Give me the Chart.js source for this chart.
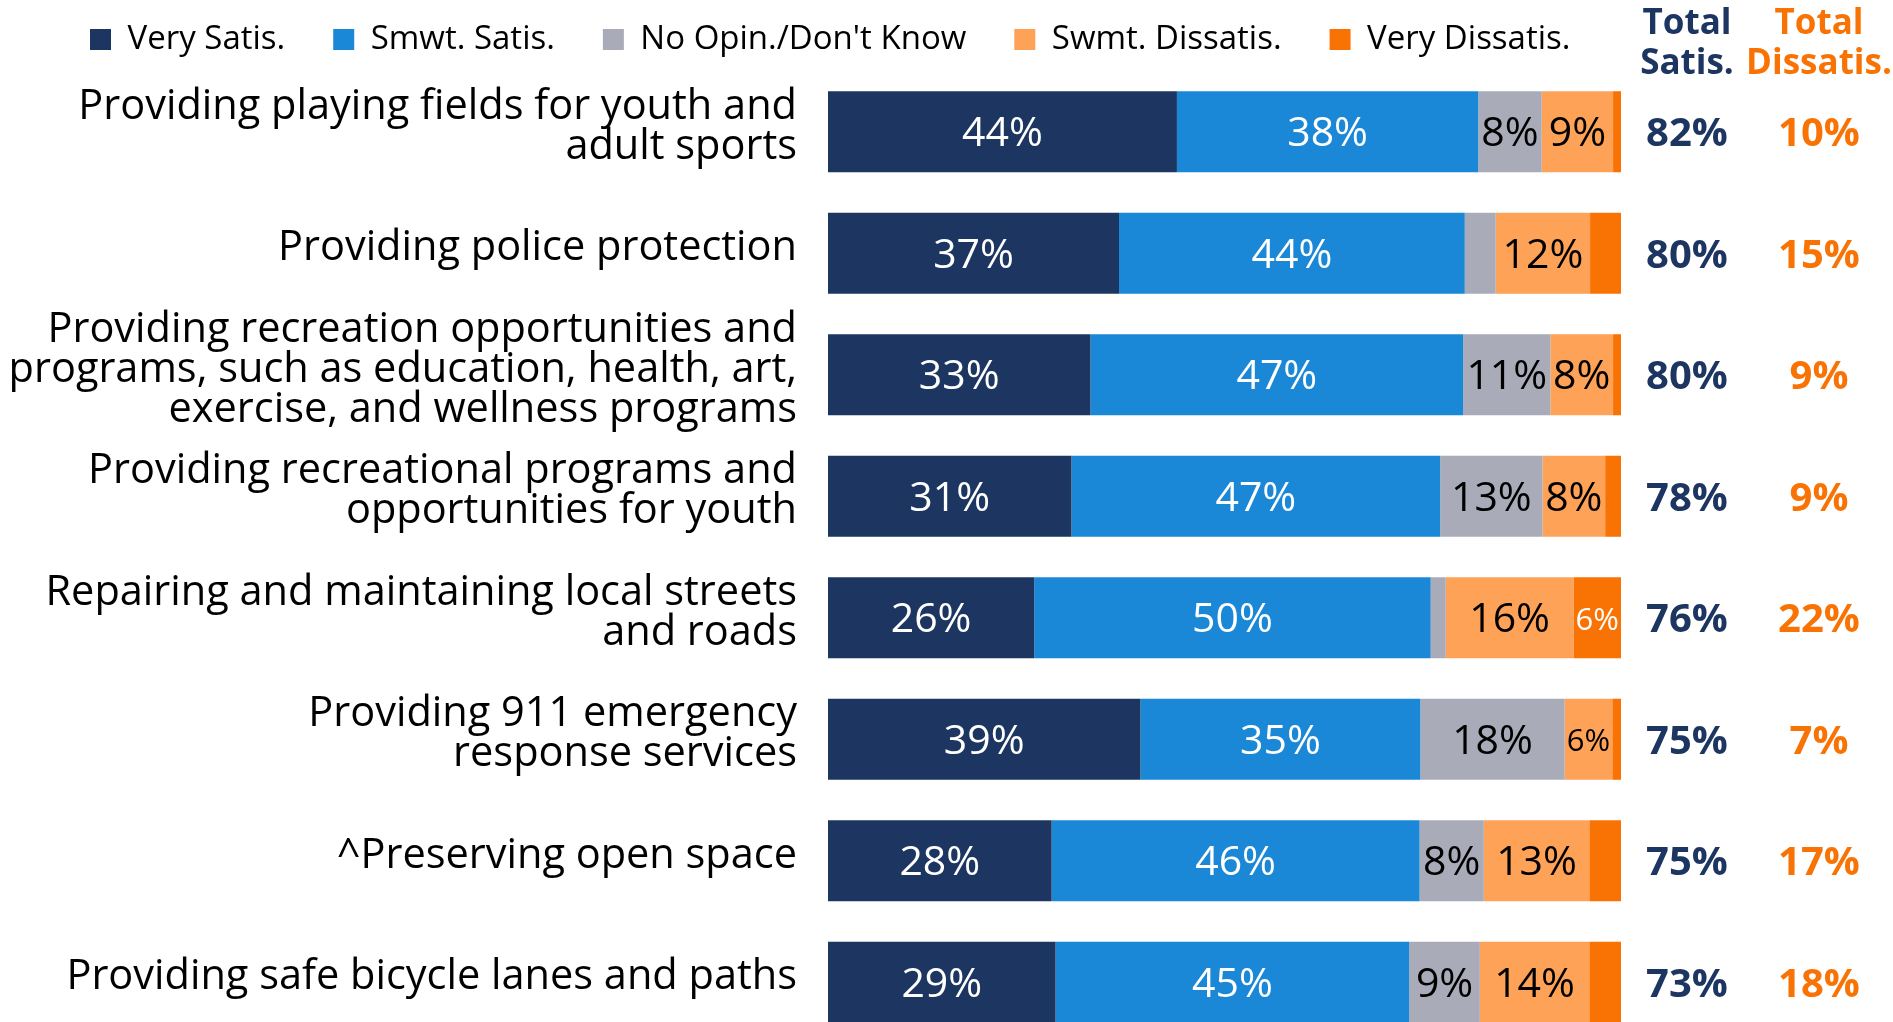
<!DOCTYPE html>
<html>
<head>
<meta charset="utf-8">
<script src="https://cdn.jsdelivr.net/npm/chart.js@4"></script>
<style>
  html, body { margin: 0; padding: 0; background: #fff; overflow: hidden; }
  #grafico { position: absolute; left: 0; top: -25px; }
</style>
</head>
<body>
<canvas id="grafico" width="1893" height="1068"></canvas>
<script>
// Datos (porcentajes de cada segmento)
const categorias = [
  ['Providing playing fields for youth and', 'adult sports'],
  'Providing police protection',
  ['Providing recreation opportunities and', 'programs, such as education, health, art,', 'exercise, and wellness programs'],
  ['Providing recreational programs and', 'opportunities for youth'],
  ['Repairing and maintaining local streets', 'and roads'],
  ['Providing 911 emergency', 'response services'],
  '^Preserving open space',
  'Providing safe bicycle lanes and paths'
];
const series = ['Very Satis.', 'Smwt. Satis.', "No Opin./Don't Know", 'Swmt. Dissatis.', 'Very Dissatis.'];
const muySatis    = [44.0, 36.7, 33.1, 30.7, 26.0, 39.4, 28.2, 28.7];
const algoSatis   = [38.0, 43.6, 47.0, 46.5, 50.0, 35.3, 46.4, 44.6];
const sinOpinion  = [8.0, 3.9, 11.0, 12.9, 1.9, 18.2, 8.1, 8.9];
const algoInsatis = [9.0, 11.9, 7.9, 7.9, 16.1, 6.0, 13.3, 13.8];
const muyInsatis  = [1.0, 3.9, 1.0, 2.0, 6.0, 1.1, 4.0, 4.0];
const totalSatis   = ['82%', '80%', '80%', '78%', '76%', '75%', '75%', '73%'];
const totalInsatis = ['10%', '15%', '9%', '9%', '22%', '7%', '17%', '18%'];

const colores = ['#1D3661', '#1A88D6', '#A9ABB8', '#FDA257', '#F97304'];
const coloresTexto = ['#ffffff', '#ffffff', '#000000', '#000000', '#ffffff'];
const azulTotal = '#1D3661';
const naranjaTotal = '#F97304';
const fuente = '"Open Sans", sans-serif';

// Ajustes de la leyenda: espacio extra debajo y margen a la izquierda
const ajusteLeyenda = {
  id: 'ajusteLeyenda',
  beforeInit(chart) {
    const fitOriginal = chart.legend.fit;
    chart.legend.fit = function () {
      fitOriginal.bind(chart.legend)();
      this.height += 5;
    };
  },
  afterLayout(chart) {
    chart.legend.left = 42;
  }
};

// Etiquetas dentro de las barras
const etiquetasBarras = {
  id: 'etiquetasBarras',
  afterDatasetsDraw(chart) {
    const ctx = chart.ctx;
    ctx.save();
    ctx.textAlign = 'center';
    ctx.textBaseline = 'middle';
    chart.data.datasets.forEach((ds, i) => {
      const meta = chart.getDatasetMeta(i);
      meta.data.forEach((barra, j) => {
        const valor = ds.data[j];
        if (valor < 5.5) return;
        const texto = Math.round(valor) + '%';
        const ancho = Math.abs(barra.x - barra.base);
        let tam = 41;
        ctx.font = tam + 'px ' + fuente;
        const w = ctx.measureText(texto).width;
        if (w > ancho - 2) {
          tam = Math.floor(tam * (ancho - 4) / w);
          ctx.font = tam + 'px ' + fuente;
        }
        ctx.fillStyle = coloresTexto[i];
        ctx.fillText(texto, (barra.x + barra.base) / 2, barra.y + 3);
      });
    });
    ctx.restore();
  }
};

// Columnas de totales a la derecha
const columnasTotales = {
  id: 'columnasTotales',
  afterDraw(chart) {
    const ctx = chart.ctx;
    const area = chart.chartArea;
    const escalaY = chart.scales.y;
    const xSatis = area.right + 66;
    const xInsatis = area.right + 198;
    ctx.save();
    ctx.textAlign = 'center';
    ctx.textBaseline = 'alphabetic';
    ctx.font = 'bold 35px ' + fuente;
    ctx.fillStyle = azulTotal;
    ctx.fillText('Total', xSatis, area.top - 37);
    ctx.fillText('Satis.', xSatis, area.top + 3);
    ctx.fillStyle = naranjaTotal;
    ctx.fillText('Total', xInsatis, area.top - 37);
    ctx.fillText('Dissatis.', xInsatis, area.top + 3);

    ctx.textBaseline = 'middle';
    ctx.font = 'bold 40px ' + fuente;
    categorias.forEach((c, j) => {
      const y = escalaY.getPixelForValue(j) + 3;
      ctx.fillStyle = azulTotal;
      ctx.fillText(totalSatis[j], xSatis, y);
      ctx.fillStyle = naranjaTotal;
      ctx.fillText(totalInsatis[j], xInsatis, y);
    });
    ctx.restore();
  }
};

const valores = [muySatis, algoSatis, sinOpinion, algoInsatis, muyInsatis];

const ctx = document.getElementById('grafico').getContext('2d');
new Chart(ctx, {
  type: 'bar',
  data: {
    labels: categorias,
    datasets: series.map((nombre, i) => ({
      label: nombre,
      data: valores[i],
      backgroundColor: colores[i],
      borderWidth: 0,
      categoryPercentage: 0.667,
      barPercentage: 1
    }))
  },
  options: {
    indexAxis: 'y',
    responsive: false,
    animation: false,
    layout: { padding: 0 },
    plugins: {
      legend: {
        position: 'top',
        align: 'start',
        labels: {
          boxWidth: 21,
          boxHeight: 21,
          padding: 48,
          color: '#000',
          font: { family: fuente, size: 33 }
        }
      },
      tooltip: { enabled: false }
    },
    scales: {
      x: {
        stacked: true,
        min: 0,
        max: 100,
        display: false
      },
      y: {
        stacked: true,
        grid: { display: false, drawTicks: false },
        border: { display: false },
        ticks: {
          autoSkip: false,
          color: '#000',
          padding: 31,
          labelOffset: -5,
          font: { family: fuente, size: 41.5, lineHeight: '40px' }
        },
        afterFit(escala) {
          escala.width = 828;
          escala.paddingTop = 0;
          escala.paddingBottom = 0;
        }
      },
      yDerecha: {
        type: 'category',
        position: 'right',
        grid: { display: false, drawTicks: false },
        border: { display: false },
        ticks: { display: false },
        afterFit(escala) { escala.width = 272; }
      }
    }
  },
  plugins: [ajusteLeyenda, etiquetasBarras, columnasTotales]
});
</script>
</body>
</html>
